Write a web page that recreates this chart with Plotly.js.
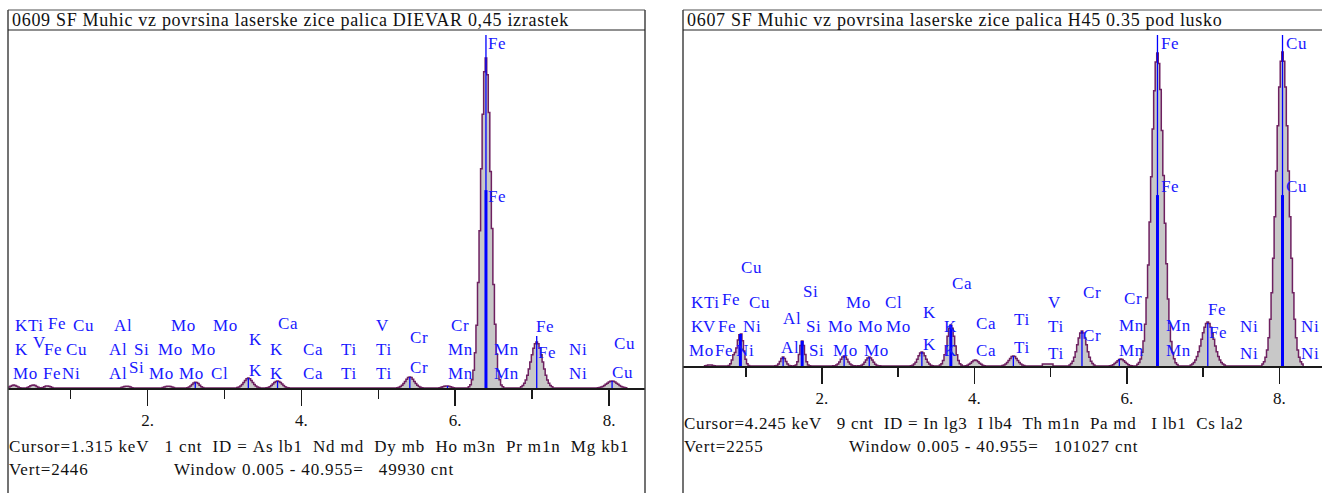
<!DOCTYPE html>
<html>
<head>
<meta charset="utf-8">
<script src="https://cdn.plot.ly/plotly-3.0.1.min.js"></script>
<style>
html,body{margin:0;padding:0;background:#fff;}
#chart{width:1322px;height:493px;}
</style>
</head>
<body>
<div id="chart"></div>
<script>
// ---------------- DATA ----------------
// Spectrum channels (0.02 keV per channel); each segment: first channel energy + counts
const channelWidth = 0.02;

const leftTitle = "0609 SF Muhic vz povrsina laserske zice palica DIEVAR 0,45 izrastek";
const rightTitle = "0607 SF Muhic vz povrsina laserske zice palica H45 0.35 pod lusko";

const leftVert = 2446;
const rightVert = 2255;

const leftSegStart = [0.20, 0.44, 0.64, 1.66, 2.20, 2.52, 3.17, 3.55, 5.25, 5.80, 6.18, 6.86, 7.86];
const leftSegCounts = [
  [6, 12, 17, 20, 17, 12, 6, 2],
  [4, 9, 15, 19, 20, 17, 11, 5, 2],
  [4, 9, 13, 14, 12, 8, 3],
  [3, 7, 11, 12, 12, 10, 6, 2],
  [3, 6, 10, 12, 12, 11, 7, 3],
  [2, 6, 13, 24, 34, 40, 38, 30, 19, 9, 3],
  [3, 6, 13, 24, 38, 52, 64, 68, 64, 52, 38, 24, 13, 6, 3],
  [2, 4, 9, 17, 27, 37, 45, 48, 45, 37, 27, 17, 9, 4, 2],
  [2, 5, 10, 19, 31, 45, 60, 71, 75, 71, 60, 45, 31, 19, 10, 5, 2],
  [2, 5, 9, 12, 14, 14, 12, 9, 5, 2],
  [8, 22, 56, 121, 240, 428, 720, 1075, 1498, 1870, 2160, 2255, 2140, 1882, 1480, 1090, 708, 436, 233, 117, 57, 21, 9],
  [9, 17, 32, 55, 87, 129, 177, 228, 272, 303, 314, 303, 272, 228, 177, 129, 87, 55, 32, 17, 9],
  [2, 4, 6, 11, 17, 25, 33, 41, 46, 48, 46, 41, 33, 25, 17, 11, 6, 4, 2]
];

const rightSegStart = [0.47, 0.78, 1.39, 1.64, 2.15, 2.48, 3.17, 3.55, 3.89, 4.37, 4.90, 5.25, 5.78, 6.14, 6.84, 7.78];
const rightSegCounts = [
  [2, 4, 6, 7, 6, 4, 2],
  [4, 15, 40, 75, 90, 120, 175, 210, 215, 170, 100, 45, 15, 4],
  [1, 4, 14, 31, 51, 60, 51, 31, 14, 4, 1],
  [1, 7, 29, 77, 138, 168, 138, 77, 29, 7, 1],
  [1, 2, 6, 14, 27, 45, 61, 67, 61, 45, 27, 14, 6, 2, 1],
  [1, 2, 5, 12, 25, 40, 54, 60, 54, 40, 25, 12, 5, 2, 1],
  [2, 5, 13, 26, 46, 68, 87, 94, 87, 68, 46, 26, 13, 5, 2],
  [6, 15, 37, 76, 134, 200, 254, 275, 254, 200, 134, 76, 37, 15, 6],
  [2, 5, 11, 19, 29, 37, 40, 37, 29, 19, 11, 5, 2],
  [3, 6, 13, 23, 37, 51, 63, 67, 63, 51, 37, 23, 13, 6, 3],
  [13, 13, 13, 13, 13, 13, 13],
  [7, 16, 32, 59, 96, 142, 188, 222, 235, 222, 188, 142, 96, 59, 32, 16, 7],
  [2, 4, 9, 16, 26, 36, 44, 47, 44, 36, 26, 16, 9, 4, 2],
  [11, 24, 47, 93, 168, 281, 458, 678, 966, 1270, 1590, 1848, 2040, 2100, 2030, 1856, 1580, 1278, 958, 686, 450, 287, 164, 91, 49, 22, 10],
  [7, 13, 23, 40, 64, 96, 135, 179, 223, 260, 286, 295, 286, 260, 223, 179, 135, 96, 64, 40, 23, 13, 7],
  [14, 29, 58, 108, 190, 314, 491, 723, 1001, 1309, 1612, 1872, 2045, 2107, 2045, 1872, 1612, 1309, 1001, 723, 491, 314, 190, 108, 58, 29, 14]
];

// Tick labels
const tickValues = [2, 4, 6, 8];
const tickLabels = ["2.", "4.", "6.", "8."];
const minorTickValues = [1, 3, 5, 7];

// KLM marker lines (energy keV, top in counts)
const leftMarkerEnergy = [6.40, 7.06, 5.41, 8.04, 3.31, 3.69, 2.62, 5.90];
const leftMarkerTop = [2411, 355, 75, 48, 68, 48, 40, 14];
const leftMainMarkerEnergy = [6.40];
const leftMainMarkerTop = [1352];

const rightMarkerEnergy = [6.40, 8.04, 7.06, 5.41, 1.49, 3.31, 4.51, 5.90, 2.29, 2.62];
const rightMarkerTop = [2221, 2221, 288, 235, 60, 94, 67, 47, 67, 60];
const rightMainMarkerEnergy = [6.40, 8.04, 0.93, 1.74, 3.69];
const rightMainMarkerTop = [1147, 1147, 215, 168, 275];

// Element labels (text, energy of left edge keV, counts at text centre)
const leftLabelText = ["Fe", "Fe",
  "KTi", "Fe", "Cu", "Al", "Mo", "Mo", "Ca", "V", "Cr", "Fe",
  "K", "V", "Fe", "Cu", "Al", "Si", "Mo", "Mo", "K", "K", "Ca", "Ti", "Ti", "Cr", "Mn", "Mn", "Fe", "Ni", "Cu",
  "Mo", "Fe", "Ni", "Al", "Si", "Mo", "Mo", "Cl", "K", "K", "Ca", "Ti", "Ti", "Cr", "Mn", "Mn", "Ni", "Cu"];
const leftLabelEnergy = [6.414, 6.414,
  0.263, 0.692, 1.017, 1.550, 2.291, 2.837, 3.683, 4.957, 5.932, 7.038,
  0.263, 0.497, 0.640, 0.926, 1.485, 1.810, 2.122, 2.551, 3.305, 3.579, 4.008, 4.502, 4.957, 5.399, 5.893, 6.491, 7.064, 7.467, 8.052,
  0.237, 0.627, 0.874, 1.485, 1.745, 2.005, 2.395, 2.811, 3.305, 3.579, 4.008, 4.502, 4.957, 5.399, 5.893, 6.491, 7.467, 8.026];
const leftLabelCount = [2356, 1311,
  430, 444, 430, 430, 430, 430, 444, 430, 430, 417,
  260, 314, 260, 260, 260, 260, 260, 260, 328, 260, 260, 260, 260, 342, 260, 260, 246, 260, 307,
  102, 102, 102, 102, 137, 102, 102, 102, 123, 102, 102, 102, 102, 137, 102, 102, 102, 109];

const rightLabelText = ["Fe", "Fe", "Cu", "Cu", "Cu",
  "KTi", "Fe", "Cu", "Si", "Mo", "Cl", "Ca", "Ti", "V", "Cr", "Cr", "Fe",
  "K", "V", "Fe", "Ni", "Al", "Si", "Mo", "Mo", "Mo", "K", "K", "Ca", "Ti", "Cr", "Mn", "Mn", "Fe", "Ni", "Ni",
  "Mo", "Fe", "Ni", "Al", "Si", "Mo", "Mo", "K", "K", "Ca", "Ti", "Ti", "Mn", "Mn", "Ni", "Ni"];
const rightLabelEnergy = [6.433, 6.433, 8.074, 8.074, 0.925,
  0.269, 0.669, 1.030, 1.737, 2.302, 2.813, 3.693, 4.506, 4.952, 5.411, 5.948, 7.050,
  0.269, 0.430, 0.623, 0.951, 1.475, 1.777, 2.066, 2.460, 2.826, 3.312, 3.588, 4.008, 4.952, 5.411, 5.883, 6.499, 7.063, 7.470, 8.271,
  0.243, 0.584, 0.859, 1.449, 1.816, 2.131, 2.538, 3.312, 3.588, 4.008, 4.506, 4.952, 5.883, 6.499, 7.470, 8.271];
const rightLabelCount = [2167, 1208, 2167, 1208, 664,
  429, 443, 429, 497, 429, 423, 557, 309, 423, 490, 450, 382,
  262, 262, 262, 262, 322, 262, 262, 262, 262, 356, 268, 282, 262, 208, 275, 275, 228, 262, 262,
  107, 107, 107, 127, 107, 107, 107, 141, 107, 107, 121, 87, 107, 107, 87, 87];

// Status lines
const leftCursorLine = "Cursor=1.315 keV   1 cnt  ID = As lb1  Nd md  Dy mb  Ho m3n  Pr m1n  Mg kb1";
const leftVertLine = "Vert=" + leftVert;
const leftWindowLine = "Window 0.005 - 40.955=   49930 cnt";
const rightCursorLine = "Cursor=4.245 keV   9 cnt  ID = In lg3  I lb4  Th m1n  Pa md   I lb1  Cs la2";
const rightVertLine = "Vert=" + rightVert;
const rightWindowLine = "Window 0.005 - 40.955=   101027 cnt";

// ---------------- BUILD ----------------
const W = 1322, H = 493;
const px = v => v / W;
const py = v => 1 - v / H;
const nb = s => s.replace(/ /g, "\u00a0");

function buildSpectrum(starts, counts) {
  const x = [], y = [];
  starts.forEach((s, i) => {
    const c = counts[i];
    x.push(+(s - channelWidth).toFixed(3)); y.push(0);
    c.forEach((v, k) => { x.push(+(s + k * channelWidth).toFixed(3)); y.push(v); });
    x.push(+(s + c.length * channelWidth).toFixed(3)); y.push(0);
  });
  return {x, y};
}

const L = buildSpectrum(leftSegStart, leftSegCounts);
const R = buildSpectrum(rightSegStart, rightSegCounts);

const specStyle = {
  type: 'scatter', mode: 'lines', fill: 'tozeroy',
  fillcolor: '#c8c8c8',
  line: {color: '#6e2060', width: 1.5, shape: 'hvh'},
  hoverinfo: 'skip', cliponaxis: false
};

const traces = [
  Object.assign({x: L.x, y: L.y, xaxis: 'x', yaxis: 'y'}, specStyle),
  Object.assign({x: R.x, y: R.y, xaxis: 'x2', yaxis: 'y2'}, specStyle)
];

const blue = '#1818ff';
const serif = "'Liberation Serif', 'Times New Roman', serif";

const shapes = [];
function markerLines(energies, tops, xr, yr, w) {
  energies.forEach((e, i) => shapes.push({
    type: 'line', xref: xr, yref: yr, x0: e, x1: e, y0: 0, y1: tops[i],
    line: {color: '#0000ff', width: w}, layer: 'above'
  }));
}
markerLines(leftMarkerEnergy, leftMarkerTop, 'x', 'y', 1.3);
markerLines(leftMainMarkerEnergy, leftMainMarkerTop, 'x', 'y', 3);
markerLines(rightMarkerEnergy, rightMarkerTop, 'x2', 'y2', 1.3);
markerLines(rightMainMarkerEnergy, rightMainMarkerTop, 'x2', 'y2', 3);

// frames
[[8, 645], [683, 1330]].forEach(([a, b]) => {
  shapes.push({type: 'line', xref: 'paper', yref: 'paper', x0: px(a), x1: px(b), y0: py(10), y1: py(10),
    line: {color: '#8a8a8a', width: 1.5}, layer: 'above'});
  shapes.push({type: 'line', xref: 'paper', yref: 'paper', x0: px(a), x1: px(a), y0: -0.05, y1: py(10),
    line: {color: '#444', width: 1.5}, layer: 'above'});
  shapes.push({type: 'line', xref: 'paper', yref: 'paper', x0: px(b), x1: px(b), y0: -0.05, y1: py(10),
    line: {color: '#444', width: 1.5}, layer: 'above'});
  shapes.push({type: 'line', xref: 'paper', yref: 'paper', x0: px(a), x1: px(b), y0: py(30), y1: py(30),
    line: {color: '#222', width: 1.2}, layer: 'above'});
});

const annotations = [];
const spacing = [];
function labels(texts, energies, counts, xr, yr) {
  texts.forEach((t, i) => {
    annotations.push({
      xref: xr, yref: yr, x: energies[i], y: counts[i], text: t,
      showarrow: false, xanchor: 'left', yanchor: 'middle', align: 'left', borderpad: 0,
      font: {family: serif, size: 17, color: blue}
    });
    spacing.push(0.6);
  });
}
labels(leftLabelText, leftLabelEnergy, leftLabelCount, 'x', 'y');
labels(rightLabelText, rightLabelEnergy, rightLabelCount, 'x2', 'y2');

function paperText(t, x, y, size, ls) {
  annotations.push({xref: 'paper', yref: 'paper', x: px(x), y: py(y), text: nb(t),
    showarrow: false, xanchor: 'left', yanchor: 'middle', align: 'left', borderpad: 0,
    font: {family: serif, size: size, color: '#111'}});
  spacing.push(ls);
}
paperText(leftTitle, 11, 20, 18, 0.7);
paperText(rightTitle, 686, 20, 18, 0.7);
paperText(leftCursorLine, 8, 446, 17, 0.85);
paperText(leftVertLine, 8, 469, 17, 0.85);
paperText(leftWindowLine, 173, 469, 17, 0.85);
paperText(rightCursorLine, 683, 423, 17, 0.7);
paperText(rightVertLine, 683, 446, 17, 0.85);
paperText(rightWindowLine, 848, 446, 17, 0.85);

function xAxis(domain, range, anchor) {
  return {
    domain: domain, range: range, anchor: anchor,
    showgrid: false, zeroline: false, showline: true, linecolor: '#1a1a1a', linewidth: 1.5,
    tickmode: 'array', tickvals: tickValues, ticktext: tickLabels,
    ticks: 'outside', ticklen: 16, tickwidth: 1.5, tickcolor: '#1a1a1a',
    ticklabelstandoff: 0,
    tickfont: {family: serif, size: 17, color: '#111'},
    minor: {tickmode: 'array', tickvals: minorTickValues, ticks: 'outside', ticklen: 9, tickwidth: 1.5, tickcolor: '#1a1a1a', showgrid: false},
    fixedrange: true
  };
}
function yAxis(domain, max, anchor) {
  return {domain: domain, range: [0, max], anchor: anchor, visible: false, fixedrange: true,
    showgrid: false, zeroline: false};
}

const layout = {
  width: W, height: H, margin: {l: 0, r: 0, t: 0, b: 0},
  paper_bgcolor: '#ffffff', plot_bgcolor: 'rgba(0,0,0,0)', showlegend: false,
  xaxis: xAxis([px(8), px(645)], [0.185, 8.468], 'y'),
  yaxis: yAxis([py(388), py(30)], leftVert, 'x'),
  xaxis2: xAxis([px(683), 1], [0.177, 8.558], 'y2'),
  yaxis2: yAxis([py(366), py(30)], rightVert, 'x2'),
  shapes: shapes,
  annotations: annotations
};

Plotly.newPlot('chart', traces, layout, {displayModeBar: false, staticPlot: true}).then(gd => {
  gd.querySelectorAll('g.annotation').forEach(g => {
    const i = +g.getAttribute('data-index');
    const t = g.querySelector('text.annotation-text');
    if (t && spacing[i] !== undefined) t.style.letterSpacing = spacing[i] + 'px';
  });
});
</script>
</body>
</html>
